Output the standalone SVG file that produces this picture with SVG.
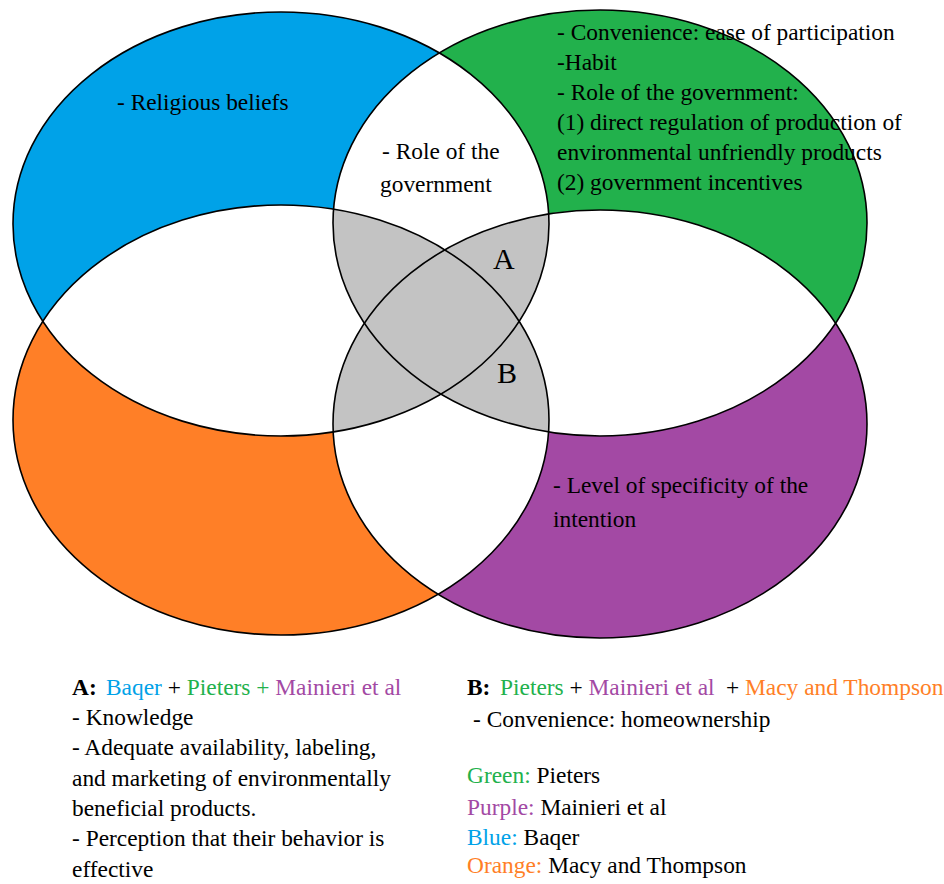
<svg xmlns="http://www.w3.org/2000/svg" width="944" height="884" viewBox="0 0 944 884">
<style>
.t{font-family:"Liberation Serif","Times New Roman",serif;font-size:23.4px;fill:#000}
.big{font-size:30px}
.b{font-weight:bold}
.cb{fill:#00A2E8}.cg{fill:#22B14C}.cp{fill:#A349A4}.co{fill:#FF7F27}
.grey{fill:#C3C3C3}
.white{fill:#FFFFFF}
.outline{fill:none;stroke:#000;stroke-width:1.6}
</style>
<defs>
<ellipse id="eB" cx="281" cy="224" rx="268" ry="212"/>
<ellipse id="eG" cx="600" cy="223" rx="267" ry="213"/>
<ellipse id="eO" cx="281" cy="420" rx="268" ry="215"/>
<ellipse id="eP" cx="600" cy="424" rx="267" ry="214"/>
<clipPath id="cB"><use href="#eB"/></clipPath>
<clipPath id="cG"><use href="#eG"/></clipPath>
<clipPath id="cO"><use href="#eO"/></clipPath>
<clipPath id="cP"><use href="#eP"/></clipPath>
</defs>
<rect width="944" height="884" fill="#fff"/>
<g id="set-blue"><use href="#eB" class="cb"/></g>
<g id="set-green"><use href="#eG" class="cg"/></g>
<g id="set-orange"><use href="#eO" class="co"/></g>
<g id="set-purple"><use href="#eP" class="cp"/></g>
<g id="overlaps-two">
<use href="#eG" class="white" clip-path="url(#cB)"/>
<use href="#eO" class="white" clip-path="url(#cB)"/>
<use href="#eP" class="white" clip-path="url(#cB)"/>
<use href="#eO" class="white" clip-path="url(#cG)"/>
<use href="#eP" class="white" clip-path="url(#cG)"/>
<use href="#eP" class="white" clip-path="url(#cO)"/>
</g>
<g id="overlaps-three">
<g clip-path="url(#cB)"><use href="#eG" class="grey" clip-path="url(#cO)"/></g>
<g clip-path="url(#cB)"><use href="#eG" class="grey" clip-path="url(#cP)"/></g>
<g clip-path="url(#cB)"><use href="#eO" class="grey" clip-path="url(#cP)"/></g>
<g clip-path="url(#cG)"><use href="#eO" class="grey" clip-path="url(#cP)"/></g>
</g>
<g id="outlines">
<use href="#eB" class="outline"/>
<use href="#eG" class="outline"/>
<use href="#eO" class="outline"/>
<use href="#eP" class="outline"/>
</g>
<g id="label-blue"><text class="t" x="117" y="110">- Religious beliefs</text></g>
<g id="label-blue-green">
<text class="t" x="382" y="159">- Role of the</text>
<text class="t" x="380" y="192">government</text>
</g>
<g id="label-green">
<text class="t" x="557" y="40">- Convenience: ease of participation</text>
<text class="t" x="557" y="70">-Habit</text>
<text class="t" x="557" y="100">- Role of the government:</text>
<text class="t" x="557" y="130">(1) direct regulation of production of</text>
<text class="t" x="557" y="160">environmental unfriendly products</text>
<text class="t" x="557" y="190">(2) government incentives</text>
</g>
<g id="label-purple">
<text class="t" x="553" y="493">- Level of specificity of the</text>
<text class="t" x="553" y="527">intention</text>
</g>
<g id="label-A"><text class="t big" x="493" y="269">A</text></g>
<g id="label-B"><text class="t big" x="497" y="383">B</text></g>
<g id="legend-A">
<text class="t" x="72" y="695"><tspan class="b">A:</tspan> <tspan class="cb" x="106">Baqer</tspan> + <tspan class="cg">Pieters +</tspan> <tspan class="cp">Mainieri et al</tspan></text>
<text class="t" x="72" y="725">- Knowledge</text>
<text class="t" x="72" y="755">- Adequate availability, labeling,</text>
<text class="t" x="72" y="786">and marketing of environmentally</text>
<text class="t" x="72" y="816">beneficial products.</text>
<text class="t" x="72" y="846">- Perception that their behavior is</text>
<text class="t" x="72" y="877">effective</text>
</g>
<g id="legend-B">
<text class="t" x="467" y="695"><tspan class="b">B:</tspan> <tspan class="cg" x="500">Pieters</tspan> + <tspan class="cp">Mainieri et al</tspan> <tspan x="726">+</tspan> <tspan class="co">Macy and Thompson</tspan></text>
<text class="t" x="473" y="727">- Convenience: homeownership</text>
<text class="t" x="467" y="783"><tspan class="cg">Green:</tspan> Pieters</text>
<text class="t" x="467" y="815"><tspan class="cp">Purple:</tspan> Mainieri et al</text>
<text class="t" x="467" y="845"><tspan class="cb">Blue:</tspan> Baqer</text>
<text class="t" x="467" y="873"><tspan class="co">Orange:</tspan> Macy and Thompson</text>
</g>
</svg>
